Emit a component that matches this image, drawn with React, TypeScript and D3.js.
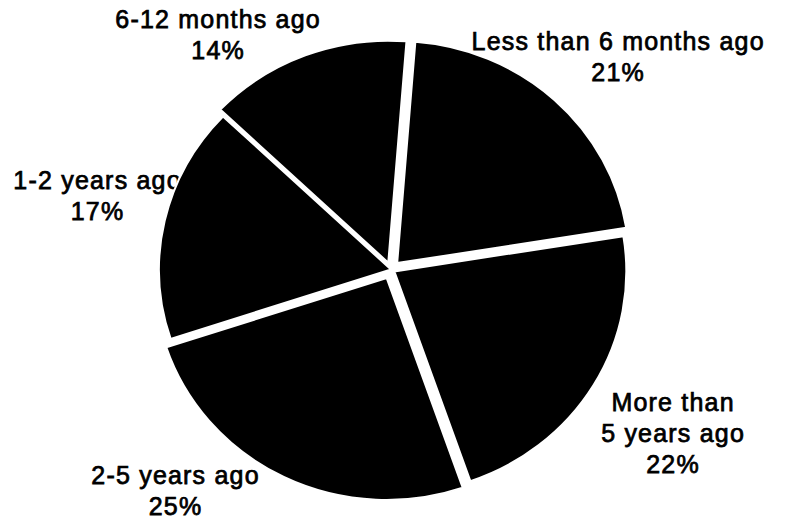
import React from "react";
import * as d3 from "d3";

// ---- data ----
const categories = [
  "Less than 6 months ago",
  "More than 5 years ago",
  "2-5 years ago",
  "1-2 years ago",
  "6-12 months ago",
];
const values = [21, 22, 25, 17, 14];
const labelLines = [
  ["Less than 6 months ago", "21%"],
  ["More than", "5 years ago", "22%"],
  ["2-5 years ago", "25%"],
  ["1-2 years ago", "17%"],
  ["6-12 months ago", "14%"],
];

// ---- layout / style ----
const W = 794;
const H = 522;
const CX = 391;
const CY = 269.5;
const R = 222;
const SX = 1.045; // slight horizontal stretch of the original
const START = (4.5 * Math.PI) / 180;
const explode = [8.7, 3.7, 9.4, 0, 7.3];
const LABEL_R = 310;
const labelNudge: [number, number][] = [
  [17, 15],
  [16, 4],
  [-78, -57],
  [9, -6],
  [-62, 54],
];
const LINE_H = 31;
const FONT = "'Liberation Sans', Arial, Helvetica, sans-serif";

export default function App() {
  const pie = d3
    .pie<number>()
    .sort(null)
    .value((d) => d)
    .startAngle(START)
    .endAngle(START + 2 * Math.PI);
  const arcs = pie(values);
  const arc = d3.arc<d3.PieArcDatum<number>>().innerRadius(0).outerRadius(R);

  return (
    <svg
      width={W}
      height={H}
      style={{ position: "absolute", left: 0, top: 0, background: "#fff" }}
    >
      <rect x={0} y={0} width={W} height={H} fill="#fff" />
      <g
        fontFamily={FONT}
        fontSize={25}
        letterSpacing={1.2}
        fill="#000"
        stroke="#000"
        strokeWidth={0.75}
        textAnchor="middle"
      >
        {arcs.map((a, i) => {
          const mid = (a.startAngle + a.endAngle) / 2;
          const x = CX + LABEL_R * Math.sin(mid) + labelNudge[i][0];
          const y = CY - LABEL_R * Math.cos(mid) + labelNudge[i][1];
          const lines = labelLines[i];
          const n = lines.length;
          return (
            <text key={categories[i]} x={x} y={y}>
              {lines.map((ln, j) => (
                <tspan
                  key={j}
                  x={x}
                  y={y + (j - (n - 1) / 2) * LINE_H + 9}
                >
                  {ln}
                </tspan>
              ))}
            </text>
          );
        })}
      </g>
      <g transform={`translate(${CX},${CY}) scale(${SX},1)`}>
        {arcs.map((a, i) => {
          const mid = (a.startAngle + a.endAngle) / 2;
          const dx = explode[i] * Math.sin(mid);
          const dy = -explode[i] * Math.cos(mid);
          return (
            <path
              key={categories[i]}
              d={arc(a) || ""}
              transform={`translate(${dx},${dy})`}
              fill="#000"
              stroke="#fff"
              strokeWidth={2}
              vectorEffect="non-scaling-stroke"
            />
          );
        })}
      </g>
    </svg>
  );
}
